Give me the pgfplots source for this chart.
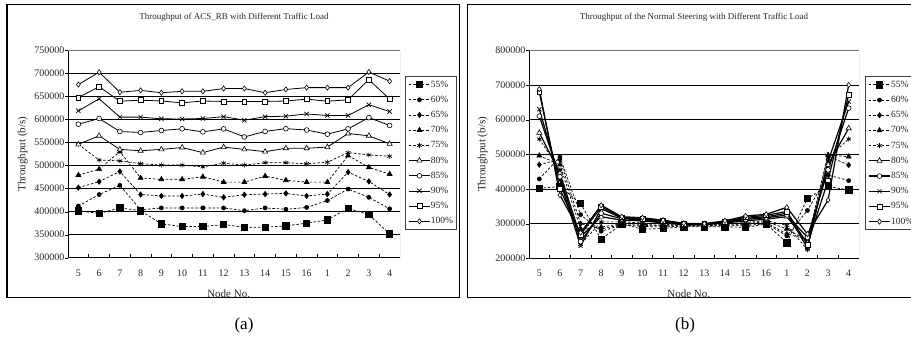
\documentclass[border=0pt]{standalone}
\usepackage{fontspec}
\setmainfont{Liberation Serif}
\usepackage{pgfplots}
\pgfplotsset{compat=1.18}
\usepackage{pgfplotstable}

\pgfplotstableread{
x a55 a60 a65 a70 a75 a80 a85 a90 a95 a100
0 402000 412000 452000 479000 546000 546000 589700 618600 647500 675700
1 396000 437000 465000 492000 512000 564500 602000 644700 671000 702500
2 408000 457000 487000 530000 510000 535000 573800 605000 639600 659000
3 402000 404000 437000 473000 504000 532000 571700 605000 641800 663000
4 373400 408000 434000 470000 501000 535000 576000 601300 640000 658000
5 367600 408000 434000 470000 501000 539000 579600 601000 636000 661000
6 367600 408000 438000 475500 497000 528000 573000 602000 640000 661000
7 372000 408000 431000 464000 505000 540000 579600 606000 639000 667000
8 366000 402000 436700 464000 501000 535000 562000 598400 639000 667000
9 366000 408000 438000 477000 506000 530000 574000 606000 639000 658000
10 369000 405000 439500 468000 506000 537400 580000 607000 640000 665000
11 375000 409000 434000 464000 504000 537400 577000 612000 644000 669000
12 382000 424000 438000 464000 507000 540000 568000 608500 639600 669000
13 407000 449000 485600 521600 528000 569500 579600 608500 642500 669000
14 393500 431000 465500 496000 523000 564500 604000 632000 686500 703000
15 352000 406000 437000 481300 520000 547000 586900 617000 644000 683000
}\dataA

\pgfplotstableread{
x b55 b60 b65 b70 b75 b80 b85 b90 b95 b100
0 402000 429000 470000 496000 544000 562000 610000 630000 679000 688000
1 407000 492000 485000 470000 455000 445000 435000 425000 400000 382000
2 358000 326000 300000 285000 240000 262000 248000 236000 268000 274000
3 255000 278000 285000 290000 305000 320000 330000 343000 348000 353000
4 299000 296000 297000 300000 305000 310000 314000 316000 318000 320000
5 284000 292000 295000 298000 302000 308000 311000 313000 315000 317000
6 286000 290000 293000 295000 298000 302000 304000 306000 308000 310000
7 291000 293000 294000 295000 296000 297000 298000 299000 300000 301000
8 291000 293000 294000 295000 296000 297000 298000 299000 300000 300000
9 291000 294000 296000 298000 300000 302000 303000 305000 306000 308000
10 289000 294000 297000 300000 303000 308000 312000 315000 318000 322000
11 299000 300000 303000 306000 309000 313000 317000 320000 324000 327000
12 245000 265000 270000 285000 295000 320000 325000 330000 335000 347000
13 373000 338000 255000 250000 225000 245000 260000 230000 240000 270000
14 407000 440000 495000 498000 490000 470000 455000 480000 425000 368000
15 397000 424000 469000 493000 544000 575000 633000 652000 671000 700000
}\dataB

\pgfplotsset{
  dsh/.style={black, line width=0.7pt, dash pattern=on 2.5pt off 1.8pt},
  sol/.style={black, line width=#1},
  sol/.default=0.8pt,
  m55/.style={dsh, mark=square*, mark size=3.2pt, mark options={solid, fill=black}},
  m60/.style={dsh, mark=*, mark size=2pt, mark options={solid, fill=black}},
  m65/.style={dsh, mark=diamond*, mark size=2.6pt, mark options={solid, fill=black}},
  m70/.style={dsh, mark=triangle*, mark size=2.8pt, mark options={solid, fill=black}},
  m75/.style={dsh, mark=asterisk, mark size=2.6pt, mark options={solid}},
  m80/.style={sol=#1, mark=triangle*, mark size=3pt, mark options={solid, fill=white, line width=0.6pt}},
  m85/.style={sol=#1, mark=*, mark size=2.4pt, mark options={solid, fill=white, line width=0.6pt}},
  m90/.style={sol=#1, mark=x, mark size=3pt, mark options={solid, line width=0.7pt}},
  m95/.style={sol=#1, mark=square*, mark size=2.4pt, mark options={solid, fill=white, line width=0.6pt}},
  m100/.style={sol=#1, mark=diamond*, mark size=2.6pt, mark options={solid, fill=white, line width=0.6pt}},
  m80/.default=0.8pt, m85/.default=0.8pt, m90/.default=0.8pt, m95/.default=0.8pt, m100/.default=0.8pt,
  common/.style={
    scale only axis,
    xmin=-0.5, xmax=15.5,
    xtick={0,...,15},
    xticklabels={5,6,7,8,9,10,11,12,13,14,15,16,1,2,3,4},
    minor xtick={0.5,1.5,...,14.5},
    major x tick style={draw=none},
    minor tick length=3.5pt,
    major tick length=3pt,
    tick align=inside,
    tick pos=left,
    major y tick style={black, xshift=-3pt},
    minor x tick style={black, line width=0.7pt},
    axis line style={draw=none},
    ymajorgrids,
    grid style={black, line width=0.7pt},
    tick label style={font=\fontsize{10}{12}\selectfont, text=black!85},
    /pgf/number format/assume math mode=true,
    /pgf/number format/1000 sep={},
    scaled y ticks=false,
    yticklabel style={/pgf/number format/fixed},
    xticklabel style={yshift=-8.5pt},
    title style={at={(0.5,1)}, anchor=base, yshift=25pt, font=\fontsize{9}{11}\selectfont, text=black!85},
    label style={font=\fontsize{11}{13}\selectfont, text=black!85},
    xlabel={Node No.},
    ylabel={Throughput (b/s)},
    xlabel style={at={(axis description cs:0.484,-0.172)}, anchor=center},
    ylabel style={at={(axis description cs:-0.136,0.5)}, anchor=center},
    legend cell align=left,
    legend image code/.code={\draw[mark repeat=2,mark phase=2,##1] plot coordinates {(0pt,0pt)(10.5pt,0pt)(21pt,0pt)};},
    legend style={anchor=north west, draw=black!75, line width=0.9pt, fill=white,
      inner sep=3pt, font=\fontsize{9.5}{11}\selectfont, text=black!85,
      nodes={inner sep=0.6pt, text height=7pt, text depth=2pt}, row sep=5pt},
  }
}

\begin{document}
\begin{tikzpicture}
\path[use as bounding box] (0,0) rectangle (911pt,342pt);
\clip (0,0) rectangle (911pt,342pt);
\draw[black, line width=1.3pt] (7pt,44.3pt) rectangle (459.5pt,337.7pt);
\draw[black, line width=1.3pt] (467.7pt,44.3pt) rectangle (930pt,337.7pt);

\begin{axis}[common,
  at={(68pt,84.3pt)}, anchor=south west,
  width=332pt, height=207.4pt,
  ymin=300000, ymax=750000,
  ytick={300000,350000,...,750000},
  title={Throughput of ACS\_RB with Different Traffic Load},
  legend style={at={(1.0155,0.876)}},
]
\addplot[m55] table[x=x,y=a55] {\dataA};
\addplot[m60] table[x=x,y=a60] {\dataA};
\addplot[m65] table[x=x,y=a65] {\dataA};
\addplot[m70] table[x=x,y=a70] {\dataA};
\addplot[m75] table[x=x,y=a75] {\dataA};
\addplot[m80] table[x=x,y=a80] {\dataA};
\addplot[m85] table[x=x,y=a85] {\dataA};
\addplot[m90] table[x=x,y=a90] {\dataA};
\addplot[m95] table[x=x,y=a95] {\dataA};
\addplot[m100] table[x=x,y=a100] {\dataA};
\legend{55\%,60\%,65\%,70\%,75\%,80\%,85\%,90\%,95\%,100\%}
\draw[black, line width=0.9pt] (rel axis cs:0,1) -- (rel axis cs:0,0) -- (rel axis cs:1,0);
\draw[black!55, line width=0.8pt] (rel axis cs:0,1) -- (rel axis cs:1,1) -- (rel axis cs:1,0);
\end{axis}

\begin{axis}[common,
  at={(529pt,83.7pt)}, anchor=south west,
  width=330pt, height=208pt,
  ymin=200000, ymax=800000,
  ytick={200000,300000,...,800000},
  title={Throughput of the Normal Steering with Different Traffic Load},
  ylabel style={at={(axis description cs:-0.14,0.5)}},
  legend style={at={(1.018,0.875)}},
]
\addplot[m55] table[x=x,y=b55] {\dataB};
\addplot[m60] table[x=x,y=b60] {\dataB};
\addplot[m65] table[x=x,y=b65] {\dataB};
\addplot[m70] table[x=x,y=b70] {\dataB};
\addplot[m75] table[x=x,y=b75] {\dataB};
\addplot[m80=1.2pt] table[x=x,y=b80] {\dataB};
\addplot[m85=1.2pt] table[x=x,y=b85] {\dataB};
\addplot[m90=1.2pt] table[x=x,y=b90] {\dataB};
\addplot[m95=1.2pt] table[x=x,y=b95] {\dataB};
\addplot[m100=1.2pt] table[x=x,y=b100] {\dataB};
\legend{55\%,60\%,65\%,70\%,75\%,80\%,85\%,90\%,95\%,100\%}
\draw[black, line width=0.9pt] (rel axis cs:0,1) -- (rel axis cs:0,0) -- (rel axis cs:1,0);
\draw[black!55, line width=0.8pt] (rel axis cs:0,1) -- (rel axis cs:1,1) -- (rel axis cs:1,0);
\end{axis}

\node[font=\fontsize{17}{20}\selectfont] at (244pt,17pt) {(a)};
\node[font=\fontsize{17}{20}\selectfont] at (685pt,17pt) {(b)};
\end{tikzpicture}
\end{document}
